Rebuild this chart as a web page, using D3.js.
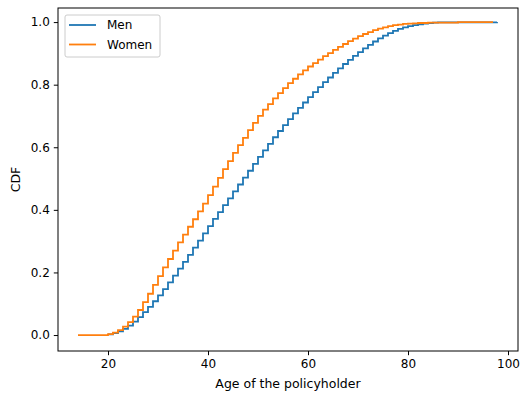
<!DOCTYPE html>
<html>
<head>
<meta charset="utf-8">
<script src="https://cdn.jsdelivr.net/npm/d3@7"></script>
<style>
  body { margin: 0; background: #fff; }
  text { font-family: "DejaVu Sans", sans-serif; }
</style>
</head>
<body>
<div id="chart"></div>
<script>
// CDF of policyholder age
const menAges = [20, 21, 22, 23, 24, 25, 26, 27, 28, 29, 30, 31, 32, 33, 34, 35, 36, 37, 38, 39,
  40, 41, 42, 43, 44, 45, 46, 47, 48, 49, 50, 51, 52, 53, 54, 55, 56, 57, 58, 59,
  60, 61, 62, 63, 64, 65, 66, 67, 68, 69, 70, 71, 72, 73, 74, 75, 76, 77, 78, 79,
  80, 81, 82, 83, 84, 85, 86, 97.8];
const menCdf = [0.002, 0.006, 0.012, 0.02, 0.03, 0.043, 0.057, 0.073, 0.09, 0.108, 0.127, 0.147, 0.168, 0.19, 0.212, 0.234, 0.256, 0.279, 0.302, 0.325,
  0.348, 0.371, 0.393, 0.415, 0.437, 0.459, 0.481, 0.503, 0.525, 0.547, 0.569, 0.59, 0.611, 0.632, 0.652, 0.671, 0.69, 0.708, 0.726, 0.743,
  0.76, 0.776, 0.792, 0.808, 0.823, 0.838, 0.852, 0.866, 0.879, 0.892, 0.904, 0.916, 0.927, 0.938, 0.948, 0.957, 0.965, 0.972, 0.978, 0.983,
  0.987, 0.99, 0.993, 0.995, 0.997, 0.998, 0.999, 1.0];

const womenAges = [14, 20, 21, 22, 23, 24, 25, 26, 27, 28, 29, 30, 31, 32, 33, 34, 35, 36, 37, 38, 39,
  40, 41, 42, 43, 44, 45, 46, 47, 48, 49, 50, 51, 52, 53, 54, 55, 56, 57, 58, 59,
  60, 61, 62, 63, 64, 65, 66, 67, 68, 69, 70, 71, 72, 73, 74, 75, 76, 77, 78, 79,
  80, 81, 82, 83, 84, 85, 90, 97];
const womenCdf = [0.0, 0.003, 0.008, 0.016, 0.027, 0.041, 0.059, 0.08, 0.105, 0.132, 0.16, 0.188, 0.216, 0.243, 0.27, 0.296, 0.321, 0.346, 0.37, 0.395, 0.42,
  0.447, 0.474, 0.502, 0.53, 0.556, 0.582, 0.607, 0.63, 0.655, 0.678, 0.7, 0.72, 0.738, 0.756, 0.773, 0.789, 0.805, 0.819, 0.833, 0.846,
  0.858, 0.869, 0.88, 0.891, 0.901, 0.911, 0.921, 0.93, 0.939, 0.947, 0.955, 0.962, 0.968, 0.974, 0.979, 0.983, 0.987, 0.99, 0.992, 0.994,
  0.995, 0.996, 0.997, 0.997, 0.998, 0.998, 1.0, 1.0];

const seriesNames = ['Men', 'Women'];
const colors = ['#1f77b4', '#ff7f0e'];
const xTicks = [20, 40, 60, 80, 100];
const yTicks = [0, 0.2, 0.4, 0.6, 0.8, 1.0];

const width = 521;
const height = 394;
const margin = { top: 8, right: 3, bottom: 43, left: 58 };
const fontSize = '12px';

const svg = d3.select('#chart')
  .append('svg')
  .attr('width', width)
  .attr('height', height);

const x = d3.scaleLinear()
  .domain([10, 102])
  .range([margin.left, width - margin.right]);

const y = d3.scaleLinear()
  .domain([-0.051, 1.045])
  .range([height - margin.bottom, margin.top]);

const line = d3.line()
  .x(d => x(d.age))
  .y(d => y(d.cdf))
  .curve(d3.curveStepAfter);

const series = [
  menAges.map((a, i) => ({ age: a, cdf: menCdf[i] })),
  womenAges.map((a, i) => ({ age: a, cdf: womenCdf[i] })),
];

const plot = svg.append('g');
series.forEach((s, i) => {
  plot.append('path')
    .datum(s)
    .attr('fill', 'none')
    .attr('stroke', colors[i])
    .attr('stroke-width', 1.8)
    .attr('d', line);
});

// axes
const xAxis = d3.axisBottom(x)
  .tickValues(xTicks)
  .tickSize(4.2)
  .tickPadding(4)
  .tickFormat(d3.format('d'));

const yAxis = d3.axisLeft(y)
  .tickValues(yTicks)
  .tickSize(4.2)
  .tickPadding(4)
  .tickFormat(d3.format('.1f'));

const gx = svg.append('g')
  .attr('transform', `translate(0,${height - margin.bottom})`)
  .call(xAxis);

const gy = svg.append('g')
  .attr('transform', `translate(${margin.left},0)`)
  .call(yAxis);

[gx, gy].forEach(g => {
  g.select('.domain').remove();
  g.selectAll('.tick line').attr('stroke', '#000').attr('stroke-width', 1);
  g.selectAll('.tick text')
    .attr('fill', '#000')
    .style('font-size', fontSize)
    .style('font-family', '"DejaVu Sans", sans-serif');
});

// frame
svg.append('rect')
  .attr('x', margin.left)
  .attr('y', margin.top)
  .attr('width', width - margin.left - margin.right)
  .attr('height', height - margin.top - margin.bottom)
  .attr('fill', 'none')
  .attr('stroke', '#000')
  .attr('stroke-width', 1);

// labels
svg.append('text')
  .attr('x', (margin.left + width - margin.right) / 2)
  .attr('y', 388)
  .attr('text-anchor', 'middle')
  .style('font-size', '12.5px')
  .text('Age of the policyholder');

svg.append('text')
  .attr('transform', `translate(20,${(margin.top + height - margin.bottom) / 2}) rotate(-90)`)
  .attr('text-anchor', 'middle')
  .style('font-size', '12.5px')
  .text('CDF');

// legend
const legend = svg.append('g')
  .attr('transform', 'translate(65,15)');

legend.append('rect')
  .attr('width', 95)
  .attr('height', 42)
  .attr('rx', 2)
  .attr('fill', '#fff')
  .attr('fill-opacity', 0.8)
  .attr('stroke', '#ccc')
  .attr('stroke-width', 1);

seriesNames.forEach((name, i) => {
  const row = legend.append('g')
    .attr('transform', `translate(0,${10 + i * 19.5})`);
  row.append('line')
    .attr('x1', 4)
    .attr('x2', 31)
    .attr('stroke', colors[i])
    .attr('stroke-width', 1.8);
  row.append('text')
    .attr('x', 42)
    .attr('dy', '0.35em')
    .style('font-size', fontSize)
    .text(name);
});
</script>
</body>
</html>
